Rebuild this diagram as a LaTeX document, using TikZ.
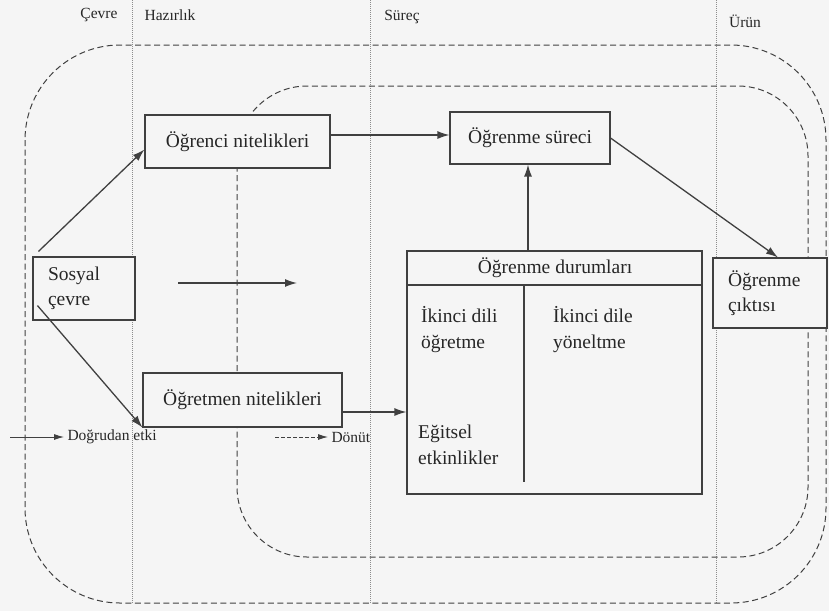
\documentclass[tikz,border=0pt]{standalone}
\usepackage{fontspec}
\setmainfont{Liberation Serif}
\usetikzlibrary{arrows.meta}

\begin{document}
\begin{tikzpicture}
        [
        x=1pt,y=-1pt,
        BoxNode/.style={rectangle,draw=black!75,fill=black!4,line width=1.1pt,text=black!85,font=\fontsize{19.5}{25}\selectfont},
            Tag/.style={rectangle,text=black!85,font=\fontsize{15.5}{18}\selectfont},
            BoxText/.style={rectangle,inner sep=0pt,align=left,anchor=west,text=black!85,font=\fontsize{19.5}{26}\selectfont},
            Phase/.style={draw=black!45,line width=0.6pt,dash pattern=on 1pt off 1pt},
            Frame/.style={draw=black!75,line width=1pt,dash pattern=on 6pt off 3.5pt},
            Flow/.style={-{Latex[length=12pt,width=8pt]},draw=black!75,line width=1.3pt},
            Key/.style={-{Latex[length=10pt,width=6pt]},draw=black!75,line width=0.9pt},
        ]

        \useasboundingbox (0,0) rectangle (829,611);
        \fill[black!4] (0,0) rectangle (829,611);

        \draw[Phase] (132,0) -- (132,603);
        \draw[Phase] (370,0) -- (370,603);
        \draw[Phase] (716,0) -- (716,603);
        \node[Tag] (tCevre) at (99,15){Çevre};
        \node[Tag] (tHazirlik) at (170,15){Hazırlık};
        \node[Tag] (tSurec) at (402,17){Süreç};
        \node[Tag] (tUrun) at (745,21){Ürün};

        \draw[Frame,rounded corners=95pt] (25,45) rectangle (826,603);
        \draw[Frame,rounded corners=70pt] (237,86) rectangle (808,557);

        \node[BoxNode,minimum width=185pt,minimum height=53pt] (nOgrenci) at (237.5,141.5){Öğrenci nitelikleri};
        \node[BoxNode,minimum width=160pt,minimum height=52pt] (nSurec) at (530,138){Öğrenme süreci};
        \node[BoxNode,text width=72pt,inner xsep=15pt,minimum height=63pt,align=left] (nSosyal) at (84,288.5){Sosyal\\çevre};
        \node[BoxNode,minimum width=199pt,minimum height=54pt] (nOgretmen) at (242.5,400){Öğretmen nitelikleri};
        \node[BoxNode,text width=84pt,inner xsep=15pt,minimum height=70pt,align=left] (nCikti) at (770,293){Öğrenme\\çıktısı};

\node[BoxNode,minimum width=295pt,minimum height=243pt] (nDurum) at (554.5,372.5){};
\node[BoxText,anchor=center] (nBaslik) at (555,268){Öğrenme durumları};
\draw[black!75,line width=1.1pt] (nDurum.west |- 0,285) -- (nDurum.east |- 0,285);
\draw[black!75,line width=1.1pt] (524,285) -- (524,482);
\node[BoxText] (nOgretme) at (421,329.5){İkinci dili\\öğretme};
\node[BoxText] (nYoneltme) at (553,329.5){İkinci dile\\yöneltme};
\node[BoxText] (nEtkinlik) at (418,444.5){Eğitsel\\etkinlikler};

\draw[Flow] ([xshift=6pt,yshift=5pt]nSosyal.north west) -- ([yshift=-8pt]nOgrenci.west);
\draw[Flow] ([xshift=5pt,yshift=15pt]nSosyal.south west) -- (nOgretmen.south west);
\draw[Flow] (nOgrenci.east |- 0,135) -- (nSurec.west |- 0,135);
\draw[Flow] (nDurum.north -| 528,0) -- (nSurec.south -| 528,0);
\draw[Flow] (nSurec.east) -- ([xshift=8pt]nCikti.north);
\draw[Flow] (nOgretmen.east |- 0,412) -- (nDurum.west |- 0,412);

\coordinate (aStart) at (178,283);
\coordinate (aEnd) at (297,283);
\draw[Flow] (aStart) -- (aEnd);

\coordinate (lgDirect) at (10,437);
\node[Tag,anchor=west] (tDogrudan) at (64,437){Doğrudan etki};
\draw[Key] (lgDirect) -- (tDogrudan.west);
\coordinate (lgFeed) at (275,437);
\node[Tag,anchor=west] (tDonut) at (328,437){Dönüt};
\draw[Key,dash pattern=on 4pt off 2pt] (lgFeed) -- (tDonut.west);

    \end{tikzpicture}
\end{document}
